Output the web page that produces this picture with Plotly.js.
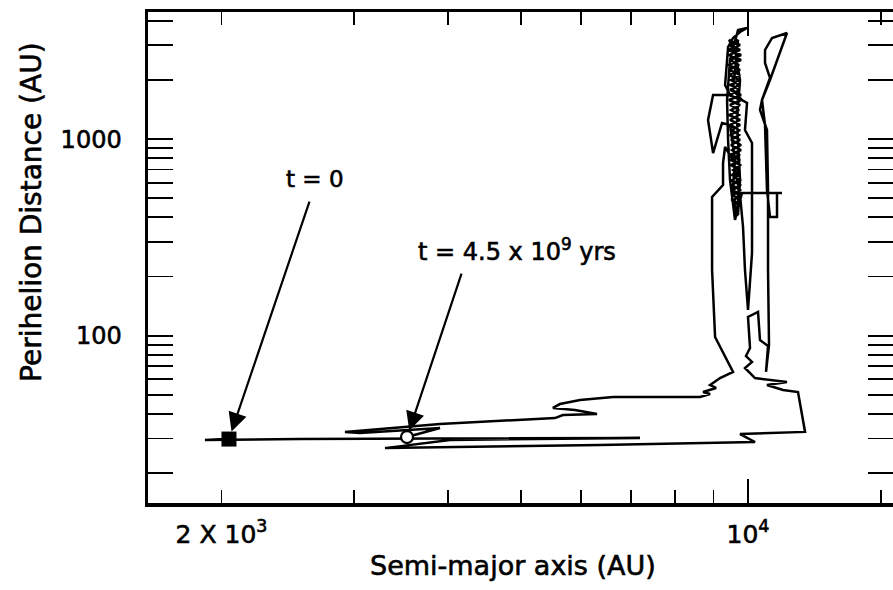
<!DOCTYPE html>
<html>
<head>
<meta charset="utf-8">
<script src="https://cdn.plot.ly/plotly-3.0.1.min.js"></script>
<style>
  html, body { margin: 0; padding: 0; background: #fff; }
  #chart { width: 893px; height: 590px; }
  /* slightly heavier lettering */
  #chart text { stroke: #000; stroke-width: 0.6px; }
</style>
</head>
<body>
<div id="chart"></div>
<script>
// Orbital evolution of a comet: semi-major axis a (AU) vs perihelion distance q (AU)
const semiMajor = [
  2046, 1901, 2542, 7188, 4021, 3297, 6361, 10216, 9759, 11905,
  11652, 11130, 10597, 11265, 10216, 9908, 10123, 9938, 10062, 10000,
  10311, 10373, 10631, 10566, 10663, 10631, 10631, 10597, 10373, 10437,
  10695, 11265, 10762, 10534, 10534, 10695, 10437, 10534, 10597, 10695,
  10927, 10927, 11095, 9818, 9610, 9465, 9409, 9380, 9465, 9699,
  9970, 9759, 9553, 9409, 9380, 9323, 9465, 8987, 8850, 8987,
  9237, 9465, 9610, 9524, 9699, 9759, 9670, 9759, 9610,
  9437, 9759, 9409, 9789, 9465, 9729, 9437, 9759, 9495, 9729,
  9465, 9789, 9437, 9759, 9495, 9729, 9465, 9759, 9524, 9729,
  9495, 9789, 9524, 9729, 9495, 9759, 9553, 9729, 9524, 9759,
  9553, 9729, 9582, 9699, 9610, 9699,
  9610, 9699, 9582, 9729, 9553, 9759, 9524, 9759, 9524, 9729,
  9495, 9759, 9465, 9789, 9495, 9759, 9465, 9759, 9465, 9759,
  9437, 9729, 9465, 9789, 9437, 9759, 9465, 9729, 9437, 9759,
  9409, 9789, 9437, 9759, 9437, 9699,
  9553,
  9818, 9970, 9908, 10123, 10123, 10000, 9908, 9849, 9759, 9553,
  9323, 9265, 9265, 8960, 8960, 9042, 9553, 9181, 8905, 9070,
  8716, 8905, 8636, 6619, 5984, 5627, 5508, 5891, 6303, 5679,
  5542, 3900, 2917, 3053, 3900, 3526
];
const perihelion = [
  29.8, 29.5, 29.8, 30.2, 29.5, 26.8, 27.8, 28.8, 31.6, 32.4,
  51.7, 52.9, 56.1, 58.1, 60.9, 68.5, 73.5, 78.8, 86.6, 124.5,
  132.0, 95.1, 88.6, 65.4, 89.7, 215.9, 551, 1112, 1406, 1581,
  1998, 3465, 3268, 2840, 2438, 2046, 1581, 1180, 551, 401.7,
  401.7, 531.9, 531.9, 531.9, 387.9, 619.4, 990, 1581, 2525, 3588,
  3674, 3505, 3268, 2941, 2525, 1885, 1676, 1676, 1251, 849.6,
  1208, 1180, 782.9, 490, 411.2, 619.4, 1251, 1998, 2840,
  3192, 3011, 2840, 2677, 2525, 2382, 2247, 2119, 1998, 1885,
  1778, 1676, 1581, 1491, 1406, 1326, 1251, 1180, 1112, 1049,
  990, 933, 880, 830, 783, 738, 696, 657, 619, 584,
  551, 520, 490, 462, 436, 411,
  411, 436, 462, 490, 520, 551, 584, 619, 657, 696,
  738, 783, 830, 880, 933, 990, 1049, 1112, 1180, 1251,
  1326, 1406, 1491, 1581, 1676, 1778, 1885, 1998, 2119, 2247,
  2382, 2525, 2677, 2840, 3011, 3192,
  1778,
  1581, 1526, 1112, 955, 263.4, 135.1, 215.9, 357.2, 519.6, 782.9,
  911.4, 755.9, 584.3, 507.6, 215.9, 98.5, 65.4, 60.9, 56.1, 54.2,
  51.7, 50.5, 48.8, 48.8, 47.1, 44.9, 42.9, 41.9, 40.0, 39.5,
  38.1, 35.6, 32.4, 32.0, 33.9, 30.5
];

// axis ticks
const xMajorTicks = [2000, 10000];
const xMajorLabels = ['2 X 10<sup>3</sup>', '10<sup>4</sup>'];
const xLongTicks = [10000];
const xMinorTicks = [3000, 4000, 5000, 6000, 7000, 8000, 9000, 15000];
const yMajorTicks = [100, 1000];
const yMajorLabels = ['100', '1000'];
const yMinorTicks = [20, 30, 40, 50, 60, 70, 80, 90, 200, 300, 400, 500, 600, 700, 800, 900, 2000, 3000, 4000];

const xRange = [3.2034, 4.1925];
const yRange = [1.1490, 3.6465];

const FONT = 'DejaVu Sans, Liberation Sans, Arial, sans-serif';
const n = semiMajor.length;

const traces = [
  {
    type: 'scatter', mode: 'lines',
    x: semiMajor, y: perihelion,
    line: { color: '#000', width: 2.5 },
    hoverinfo: 'skip', showlegend: false
  },
  {
    type: 'scatter', mode: 'markers',
    x: [semiMajor[0]], y: [perihelion[0]],
    marker: { symbol: 'square', size: 15, color: '#000', line: { width: 0 } },
    showlegend: false
  },
  {
    type: 'scatter', mode: 'markers',
    x: [semiMajor[n - 1]], y: [perihelion[n - 1]],
    marker: { symbol: 'circle', size: 12, color: '#fff', line: { color: '#000', width: 2.2 } },
    showlegend: false
  },
  // carries the long 10^4 tick axis
  { type: 'scatter', x: [], y: [], xaxis: 'x2', yaxis: 'y', showlegend: false }
];

const layout = {
  width: 893, height: 590,
  margin: { l: 148, r: 0, t: 12, b: 87 },
  paper_bgcolor: '#fff', plot_bgcolor: '#fff',
  font: { family: FONT, color: '#000', size: 24 },
  showlegend: false,
  xaxis: {
    type: 'log', range: xRange,
    tickmode: 'array', tickvals: xMajorTicks, ticktext: xMajorLabels,
    ticks: 'inside', ticklen: 13, tickwidth: 1.8, tickcolor: '#000',
    minor: { tickmode: 'array', tickvals: xMinorTicks, ticks: 'inside', ticklen: 13, tickwidth: 1.8, tickcolor: '#000', showgrid: false },
    showline: true, linewidth: 3.5, linecolor: '#000', mirror: 'allticks',
    showgrid: false, zeroline: false,
    tickfont: { family: FONT, size: 25, color: '#000' },
    ticklabelstandoff: 6
  },
  xaxis2: {
    type: 'log', range: xRange, overlaying: 'x', anchor: 'y', side: 'bottom',
    tickmode: 'array', tickvals: xLongTicks,
    ticks: 'inside', ticklen: 24, tickwidth: 1.8, tickcolor: '#000',
    showticklabels: false, showline: false, mirror: 'allticks',
    showgrid: false, zeroline: false
  },
  yaxis: {
    type: 'log', range: yRange,
    tickmode: 'array', tickvals: yMajorTicks, ticktext: yMajorLabels,
    ticks: 'inside', ticklen: 25, tickwidth: 1.8, tickcolor: '#000',
    minor: { tickmode: 'array', tickvals: yMinorTicks, ticks: 'inside', ticklen: 13, tickwidth: 1.8, tickcolor: '#000', showgrid: false },
    showline: true, linewidth: 3.5, linecolor: '#000', mirror: 'allticks',
    showgrid: false, zeroline: false,
    tickfont: { family: FONT, size: 24, color: '#000' },
    ticklabelstandoff: 18
  },
  annotations: [
    {
      xref: 'paper', yref: 'paper', x: -0.1557, y: 0.5927,
      text: 'Perihelion Distance (AU)', textangle: -90, showarrow: false,
      font: { family: FONT, size: 28, color: '#000' }, xanchor: 'center', yanchor: 'middle'
    },
    {
      xref: 'paper', yref: 'paper', x: 0.4899, y: -0.1283,
      text: 'Semi-major axis (AU)', showarrow: false,
      font: { family: FONT, size: 27, color: '#000' }, xanchor: 'center', yanchor: 'middle'
    },
    {
      xref: 'paper', yref: 'paper', x: 0.2242, y: 0.6599,
      text: 't = 0', showarrow: false,
      font: { family: FONT, size: 23, color: '#000' }, xanchor: 'center', yanchor: 'middle'
    },
    {
      xref: 'paper', yref: 'paper', x: 0.4953, y: 0.5153,
      text: 't = 4.5 x 10<sup>9</sup> yrs', showarrow: false,
      font: { family: FONT, size: 24, color: '#000' }, xanchor: 'center', yanchor: 'middle'
    },
    {
      xref: 'x', yref: 'y',
      x: Math.log10(semiMajor[0]), y: Math.log10(perihelion[0]),
      text: '', showarrow: true, ax: 81, ay: -239,
      arrowhead: 2, arrowsize: 1.7, arrowwidth: 2.2, arrowcolor: '#000', standoff: 8
    },
    {
      xref: 'x', yref: 'y',
      x: Math.log10(semiMajor[n - 1]), y: Math.log10(perihelion[n - 1]),
      text: '', showarrow: true, ax: 55, ay: -165,
      arrowhead: 2, arrowsize: 1.7, arrowwidth: 2.2, arrowcolor: '#000', standoff: 7
    }
  ]
};

Plotly.newPlot('chart', traces, layout, { displayModeBar: false, staticPlot: true });
</script>
</body>
</html>
